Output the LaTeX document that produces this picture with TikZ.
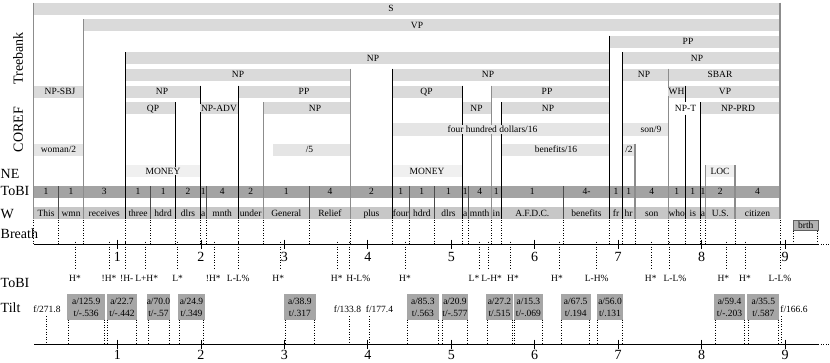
\documentclass[tikz,border=0pt]{standalone}
\usepackage{fontspec}
\setmainfont{Liberation Serif}
\definecolor{tbc}{gray}{0.855}
\definecolor{crc}{gray}{0.90}
\definecolor{nec}{gray}{0.94}
\definecolor{tobic}{gray}{0.64}
\definecolor{wc}{gray}{0.78}
\definecolor{tiltc}{gray}{0.65}
\definecolor{vgc}{gray}{0.55}
\pgfdeclarelayer{bg}
\pgfdeclarelayer{mid}
\pgfsetlayers{bg,mid,main}
\newcounter{lc}
\newcommand\tbbar[6]{%
  \begin{pgfonlayer}{bg}\fill[#6] (#1,#3) rectangle (#2,#3+12.3);\end{pgfonlayer}
  \stepcounter{lc}\node[lab,anchor=base,fill=#6,inner xsep=1pt,inner ysep=1pt] (t\arabic{lc}) at (#5,#3+9.3) {#4};}
\newcommand\wcell[4]{%
  \stepcounter{lc}\node[lab,anchor=base] (w\arabic{lc}) at ({(#1+#2)/2},216) {#3};
  \node[lab,anchor=base] (k\arabic{lc}) at ({(#1+#2)/2},194.8) {#4};}
\newcommand\tiltbox[4]{%
  \fill[tiltc] (#1,293.5) rectangle (#2,319.5);
  \stepcounter{lc}\node[lab,anchor=base] (a\arabic{lc}) at ({(#1+#2)/2},304) {#3};
  \node[lab,anchor=base] (q\arabic{lc}) at ({(#1+#2)/2},316.3) {#4};
  \draw[dotl] (#1+1,319.5) -- (#1+1,344);
  \draw[dotl] (#2-1,319.5) -- (#2-1,344);}
\begin{document}
\begin{tikzpicture}[x=1pt,y=-1pt,
  lab/.style={font=\fontsize{9.5}{10}\selectfont, inner sep=0pt},
  big/.style={font=\fontsize{14}{15}\selectfont, inner sep=0pt},
  vg/.style={draw=vgc, line width=1.1pt},
  vb/.style={draw=black, line width=0.7pt},
  sep/.style={draw=black!70, line width=0.7pt},
  dotl/.style={draw=black, line width=0.7pt, dash pattern=on 1pt off 1.6pt},
  axl/.style={draw=black, line width=0.8pt}]
\useasboundingbox (0,0) rectangle (830,362);
\begin{pgfonlayer}{bg}\fill[white] (0,0) rectangle (830,362);\end{pgfonlayer}

% ---------- row labels
\node[big,rotate=90,anchor=base] (lTree) at (23,58.5) {Treebank};
\node[big,rotate=90,anchor=base] (lCoref) at (23,129.5) {COREF};
\node[big,anchor=base west] (lNE) at (0.5,178) {NE};
\node[big,anchor=base west] (lToBI) at (0.5,195) {ToBI};
\node[big,anchor=base west] (lW) at (0.5,218) {W};
\node[big,anchor=base west] (lBreath) at (0.5,238) {Breath};
\node[big,anchor=base west] (lToBI2) at (0.5,287) {ToBI};
\node[big,anchor=base west] (lTilt) at (0.5,312) {Tilt};

% ---------- Treebank bars
\tbbar{33.5}{780}{2.5}{S}{391}{tbc}
\tbbar{83.3}{780}{19}{VP}{417}{tbc}
\tbbar{609.7}{780}{35.5}{PP}{688}{tbc}
\tbbar{125.3}{609.7}{52}{NP}{373}{tbc}
\tbbar{622.3}{780}{52}{NP}{697}{tbc}
\tbbar{125.3}{350.7}{68.5}{NP}{238}{tbc}
\tbbar{392.3}{609.7}{68.5}{NP}{488}{tbc}
\tbbar{622.3}{668.3}{68.5}{NP}{644}{tbc}
\tbbar{668.3}{780}{68.5}{SBAR}{720}{tbc}
\tbbar{33.5}{83.3}{85.5}{NP-SBJ}{60}{tbc}
\tbbar{125.3}{200.3}{85.5}{NP}{162}{tbc}
\tbbar{238.3}{350.7}{85.5}{PP}{304}{tbc}
\tbbar{392.3}{462.7}{85.5}{QP}{426.5}{tbc}
\tbbar{491.3}{609.7}{85.5}{PP}{547}{tbc}
\tbbar{668.3}{685.3}{85.5}{WH}{676.5}{tbc}
\tbbar{685.3}{780}{85.5}{VP}{725}{tbc}
\tbbar{125.3}{175.7}{102}{QP}{153}{tbc}
\tbbar{200.3}{238.3}{102}{NP-ADV}{219}{tbc}
\tbbar{263.3}{350.7}{102}{NP}{315}{tbc}
\tbbar{462.7}{491.3}{102}{NP}{476.5}{tbc}
\tbbar{501.3}{609.7}{102}{NP}{548}{tbc}
\tbbar{700.3}{780}{102}{NP-PRD}{738}{tbc}
\node[lab,anchor=base] (npt) at (685.5,111.3) {NP-T};

% ---------- COREF bars
\tbbar{392.3}{609.7}{123.3}{four hundred dollars/16}{492.5}{crc}
\tbbar{622.3}{668.3}{123.3}{son/9}{651}{crc}
\tbbar{33.5}{83.3}{143.5}{woman/2}{58.5}{crc}
\tbbar{273.3}{350.7}{143.5}{/5}{309.5}{crc}
\tbbar{501.3}{609.7}{143.5}{benefits/16}{556}{crc}
\tbbar{622.3}{635}{143.5}{/2}{629}{crc}

% ---------- NE bars
\tbbar{125.3}{200.3}{165}{MONEY}{163}{nec}
\tbbar{392.3}{462.7}{165}{MONEY}{427}{nec}
\tbbar{705.7}{735}{165}{LOC}{720}{nec}

% ---------- ToBI and W rows
\begin{pgfonlayer}{bg}
\fill[tobic] (33.5,186) rectangle (780,198.3);
\fill[wc] (33.5,207.3) rectangle (780,219.3);
\end{pgfonlayer}

% ---------- vertical lines
\begin{pgfonlayer}{mid}
\foreach \x/\y in {33.5/2.5, 83.3/19, 263.3/102, 350.7/68.5, 491.3/85.5, 635/143.5, 668.3/68.5, 705.7/165, 735/165, 780/2.5}
  \draw[vg] (\x,\y) -- (\x,219.3);
\foreach \x/\y in {125.3/52, 175.7/102, 200.3/85.5, 238.3/85.5, 392.3/68.5, 462.7/85.5, 501.3/102, 609.7/35.5, 622.3/52, 700.3/102}
  \draw[vb] (\x,\y) -- (\x,219.3);
\draw[vb] (685.3,85.5) -- (685.3,102);
\draw[vb] (685.3,114.5) -- (685.3,219.3);
\foreach \x in {58.7,150.7,206,309.3,409.3,434.3,468,563.3}
  \draw[sep] (\x,186) -- (\x,219.3);
\end{pgfonlayer}

% ---------- words and break indices
\wcell{33.5}{58.7}{This}{1}
\wcell{58.7}{83.3}{wmn}{1}
\wcell{83.3}{125.3}{receives}{3}
\wcell{125.3}{150.7}{three}{1}
\wcell{150.7}{175.7}{hdrd}{1}
\wcell{175.7}{200.3}{dlrs}{2}
\wcell{200.3}{206}{a}{1}
\wcell{206}{238.3}{mnth}{4}
\wcell{238.3}{263.3}{under}{2}
\wcell{263.3}{309.3}{General}{1}
\wcell{309.3}{350.7}{Relief}{4}
\wcell{350.7}{392.3}{plus}{2}
\wcell{392.3}{409.3}{four}{1}
\wcell{409.3}{434.3}{hdrd}{1}
\wcell{434.3}{462.7}{dlrs}{1}
\wcell{462.7}{468}{a}{1}
\wcell{468}{491.3}{mnth}{4}
\wcell{491.3}{501.3}{in}{1}
\wcell{501.3}{563.3}{A.F.D.C.}{1}
\wcell{563.3}{609.7}{benefits}{4-}
\wcell{609.7}{622.3}{fr}{1}
\wcell{622.3}{635}{hr}{1}
\wcell{635}{668.3}{son}{4}
\wcell{668.3}{685.3}{who}{1}
\wcell{685.3}{700.3}{is}{1}
\wcell{700.3}{705.7}{a}{1}
\wcell{705.7}{735}{U.S.}{2}
\wcell{735}{780}{citizen}{4}

% ---------- breath
\filldraw[fill=gray!60, draw=gray!75!black, line width=0.5pt] (793.3,219.8) rectangle (818.3,230.5);
\node[lab,anchor=base] (brth) at (805.8,228) {brth};
\draw[dotl] (793.8,230.5) -- (793.8,244);
\draw[dotl] (817.8,230.5) -- (817.8,244);

% ---------- alignment dotted lines
\foreach \x in {33.5,58.7,83.3,125.3,150.7,175.7,200.3,206,238.3,263.3,309.3,350.7,392.3,409.3,434.3,462.7,468,491.3,501.3,563.3,609.7,622.3,635,668.3,685.3,700.3,705.7,735,780}
  \draw[dotl] (\x,219.8) -- (\x,244);

% ---------- axes
\coordinate (ta0) at (34,244); \coordinate (ta1) at (818,244); \coordinate (ta2) at (830,244);
\coordinate (ba0) at (34,344); \coordinate (ba1) at (818,344); \coordinate (ba2) at (830,344);
\draw[axl] (ta0) -- (ta1); \draw[dotl] (ta1) -- (ta2);
\draw[axl] (ba0) -- (ba1); \draw[dotl] (ba1) -- (ba2);
\foreach \k in {1,...,9} {
  \draw[axl] (34+83.45*\k,239.5) -- (34+83.45*\k,248.5);
  \node[big,anchor=base] (n\k) at (34+83.45*\k,261.5) {\k};
  \draw[axl] (34+83.45*\k,339.5) -- (34+83.45*\k,348.5);
  \node[big,anchor=base] (m\k) at (34+83.45*\k,359.8) {\k};
}

% ---------- tones
\foreach \x/\lx/\t [count=\i] in {75/75/H*, 109/109/!H*, 125.7/126.7/!H-, 145.7/146.7/L+H*, 177.3/177.7/L*, 214/213.3/!H*, 238.3/238.3/L-L\%, 280/278.3/H*, 337.3/336.7/H*, 349/358.3/H-L\%, 405/405/H*, 479.3/474/L*, 488.3/491.7/L-H*, 510.3/513/H*, 559.3/557/H*, 596.7/596.7/L-H\%, 651.3/650.7/H*, 669.3/675/L-L\%, 726/723.3/H*, 745.3/745/H*, 780/780/L-L\%} {
  \draw[dotl] (\x,241.5) -- (\x,268.5);
  \node[lab,anchor=base] (tone\i) at (\lx,281) {\t};
}

% ---------- tilt
\tiltbox{67.3}{105}{a/125.9}{t/-.536}
\tiltbox{106.7}{137.3}{a/22.7}{t/-.442}
\tiltbox{147}{170}{a/70.0}{t/-.57}
\tiltbox{178.3}{204.7}{a/24.9}{t/.349}
\tiltbox{284}{315.7}{a/38.9}{t/.317}
\tiltbox{406.7}{439}{a/85.3}{t/.563}
\tiltbox{441.7}{468.3}{a/20.9}{t/-.577}
\tiltbox{486}{513}{a/27.2}{t/.515}
\tiltbox{513.5}{543.3}{a/15.3}{t/-.069}
\tiltbox{560.7}{590.7}{a/67.5}{t/.194}
\tiltbox{596.7}{623.3}{a/56.0}{t/.131}
\tiltbox{714}{745}{a/59.4}{t/-.203}
\tiltbox{747.3}{779.3}{a/35.5}{t/.587}
\foreach \x/\lx/\t [count=\i] in {46.7/47/f\slash 271.8, 349.3/347.5/f\slash 133.8, 369/379.5/f\slash 177.4, 781.7/794/f\slash 166.6} {
  \node[lab,anchor=base] (f\i) at (\lx,312) {\t};
  \draw[dotl] (\x,316) -- (\x,344);
}
\end{tikzpicture}
\end{document}
